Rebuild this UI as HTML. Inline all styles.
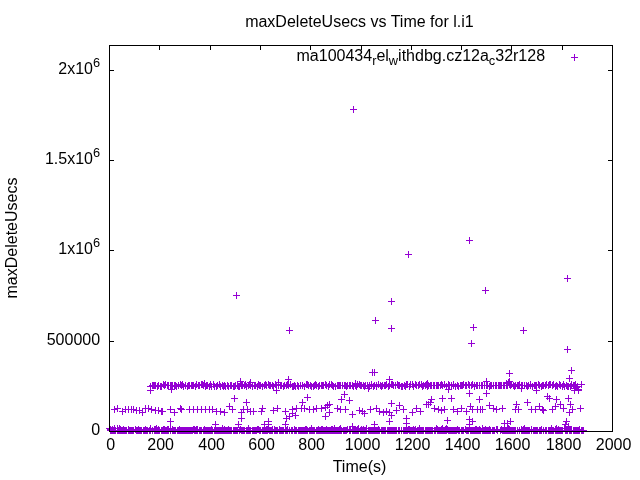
<!DOCTYPE html><html><head><meta charset="utf-8"><style>html,body{margin:0;padding:0;background:#fff}svg{display:block;will-change:transform}text{font-family:"Liberation Sans",sans-serif;font-size:16px;fill:#000}</style></head><body>
<svg width="640" height="480" viewBox="0 0 640 480">
<rect width="640" height="480" fill="#fff"/>
<path d="M109.5 431v-4M109.5 46v4M159.5 431v-4M159.5 46v4M210.5 431v-4M210.5 46v4M260.5 431v-4M260.5 46v4M310.5 431v-4M310.5 46v4M361.5 431v-4M361.5 46v4M411.5 431v-4M411.5 46v4M461.5 431v-4M461.5 46v4M511.5 431v-4M511.5 46v4M562.5 431v-4M562.5 46v4M612.5 431v-4M612.5 46v4M110 431.5h4M612 431.5h-4M110 341.5h4M612 341.5h-4M110 250.5h4M612 250.5h-4M110 160.5h4M612 160.5h-4M110 70.5h4M612 70.5h-4" stroke="#000" stroke-width="1" fill="none"/>
<path d="M571 57.5h7M574.5 54v7M350 109.5h7M353.5 106v7M405 254.5h7M408.5 251v7M466 240.5h7M469.5 237v7M564 278.5h7M567.5 275v7M233 295.5h7M236.5 292v7M286 330.5h7M289.5 327v7M388 301.5h7M391.5 298v7M372 320.5h7M375.5 317v7M388 328.5h7M391.5 325v7M369 372.5h7M372.5 369v7M371 372.5h7M374.5 369v7M482 290.5h7M485.5 287v7M470 327.5h7M473.5 324v7M520 330.5h7M523.5 327v7M468 343.5h7M471.5 340v7M564 349.5h7M567.5 346v7M506 373.5h7M509.5 370v7M568 370.5h7M571.5 367v7M107 430.5h7M110.5 427v7M107 429.5h7M110.5 426v7M108 430.5h7M111.5 427v7M109 430.5h7M112.5 427v7M109 429.5h7M112.5 426v7M110 430.5h7M113.5 427v7M111 430.5h7M114.5 427v7M111 428.5h7M114.5 425v7M112 430.5h7M115.5 427v7M114 430.5h7M117.5 427v7M114 428.5h7M117.5 425v7M115 430.5h7M118.5 427v7M116 430.5h7M119.5 427v7M116 428.5h7M119.5 425v7M117 430.5h7M120.5 427v7M117 429.5h7M120.5 426v7M118 430.5h7M121.5 427v7M119 430.5h7M122.5 427v7M120 430.5h7M123.5 427v7M120 429.5h7M123.5 426v7M121 430.5h7M124.5 427v7M122 430.5h7M125.5 427v7M123 430.5h7M126.5 427v7M125 430.5h7M128.5 427v7M125 429.5h7M128.5 426v7M126 430.5h7M129.5 427v7M127 430.5h7M130.5 427v7M128 430.5h7M131.5 427v7M129 430.5h7M132.5 427v7M130 430.5h7M133.5 427v7M132 429.5h7M135.5 426v7M133 430.5h7M136.5 427v7M134 430.5h7M137.5 427v7M135 430.5h7M138.5 427v7M135 429.5h7M138.5 426v7M136 430.5h7M139.5 427v7M137 430.5h7M140.5 427v7M138 430.5h7M141.5 427v7M140 430.5h7M143.5 427v7M141 430.5h7M144.5 427v7M142 430.5h7M145.5 427v7M142 429.5h7M145.5 426v7M143 430.5h7M146.5 427v7M144 430.5h7M147.5 427v7M146 430.5h7M149.5 427v7M147 430.5h7M150.5 427v7M147 428.5h7M150.5 425v7M149 430.5h7M152.5 427v7M151 430.5h7M154.5 427v7M151 429.5h7M154.5 426v7M152 430.5h7M155.5 427v7M152 429.5h7M155.5 426v7M153 430.5h7M156.5 427v7M153 428.5h7M156.5 425v7M154 430.5h7M157.5 427v7M155 430.5h7M158.5 427v7M155 429.5h7M158.5 426v7M156 430.5h7M159.5 427v7M158 430.5h7M161.5 427v7M159 430.5h7M162.5 427v7M160 430.5h7M163.5 427v7M160 429.5h7M163.5 426v7M161 430.5h7M164.5 427v7M161 429.5h7M164.5 426v7M162 430.5h7M165.5 427v7M163 430.5h7M166.5 427v7M164 430.5h7M167.5 427v7M164 429.5h7M167.5 426v7M165 430.5h7M168.5 427v7M165 429.5h7M168.5 426v7M167 430.5h7M170.5 427v7M167 428.5h7M170.5 425v7M169 430.5h7M172.5 427v7M169 429.5h7M172.5 426v7M170 430.5h7M173.5 427v7M171 430.5h7M174.5 427v7M172 430.5h7M175.5 427v7M174 430.5h7M177.5 427v7M175 430.5h7M178.5 427v7M176 430.5h7M179.5 427v7M176 429.5h7M179.5 426v7M177 430.5h7M180.5 427v7M178 430.5h7M181.5 427v7M179 430.5h7M182.5 427v7M180 430.5h7M183.5 427v7M181 430.5h7M184.5 427v7M182 430.5h7M185.5 427v7M183 430.5h7M186.5 427v7M184 430.5h7M187.5 427v7M185 430.5h7M188.5 427v7M186 430.5h7M189.5 427v7M187 430.5h7M190.5 427v7M188 430.5h7M191.5 427v7M189 430.5h7M192.5 427v7M190 429.5h7M193.5 426v7M191 430.5h7M194.5 427v7M191 429.5h7M194.5 426v7M192 430.5h7M195.5 427v7M193 430.5h7M196.5 427v7M193 429.5h7M196.5 426v7M194 430.5h7M197.5 427v7M194 429.5h7M197.5 426v7M196 430.5h7M199.5 427v7M197 430.5h7M200.5 427v7M198 430.5h7M201.5 427v7M200 430.5h7M203.5 427v7M201 430.5h7M204.5 427v7M201 429.5h7M204.5 426v7M202 430.5h7M205.5 427v7M203 430.5h7M206.5 427v7M204 430.5h7M207.5 427v7M205 430.5h7M208.5 427v7M206 430.5h7M209.5 427v7M207 430.5h7M210.5 427v7M208 430.5h7M211.5 427v7M208 429.5h7M211.5 426v7M209 430.5h7M212.5 427v7M211 430.5h7M214.5 427v7M212 430.5h7M215.5 427v7M213 430.5h7M216.5 427v7M214 430.5h7M217.5 427v7M215 430.5h7M218.5 427v7M216 430.5h7M219.5 427v7M217 430.5h7M220.5 427v7M218 430.5h7M221.5 427v7M219 430.5h7M222.5 427v7M219 428.5h7M222.5 425v7M220 430.5h7M223.5 427v7M221 430.5h7M224.5 427v7M221 429.5h7M224.5 426v7M222 430.5h7M225.5 427v7M223 430.5h7M226.5 427v7M224 430.5h7M227.5 427v7M225 430.5h7M228.5 427v7M225 429.5h7M228.5 426v7M226 430.5h7M229.5 427v7M227 430.5h7M230.5 427v7M228 430.5h7M231.5 427v7M230 430.5h7M233.5 427v7M231 430.5h7M234.5 427v7M232 430.5h7M235.5 427v7M233 430.5h7M236.5 427v7M234 430.5h7M237.5 427v7M236 430.5h7M239.5 427v7M237 429.5h7M240.5 426v7M238 430.5h7M241.5 427v7M239 430.5h7M242.5 427v7M240 430.5h7M243.5 427v7M241 430.5h7M244.5 427v7M243 430.5h7M246.5 427v7M244 430.5h7M247.5 427v7M245 430.5h7M248.5 427v7M245 428.5h7M248.5 425v7M246 430.5h7M249.5 427v7M247 430.5h7M250.5 427v7M249 430.5h7M252.5 427v7M250 430.5h7M253.5 427v7M251 430.5h7M254.5 427v7M252 430.5h7M255.5 427v7M253 430.5h7M256.5 427v7M254 429.5h7M257.5 426v7M255 429.5h7M258.5 426v7M256 430.5h7M259.5 427v7M257 430.5h7M260.5 427v7M259 430.5h7M262.5 427v7M260 430.5h7M263.5 427v7M261 430.5h7M264.5 427v7M262 430.5h7M265.5 427v7M263 430.5h7M266.5 427v7M263 429.5h7M266.5 426v7M264 430.5h7M267.5 427v7M264 429.5h7M267.5 426v7M265 429.5h7M268.5 426v7M266 430.5h7M269.5 427v7M267 430.5h7M270.5 427v7M268 430.5h7M271.5 427v7M269 430.5h7M272.5 427v7M269 429.5h7M272.5 426v7M271 430.5h7M274.5 427v7M271 429.5h7M274.5 426v7M272 430.5h7M275.5 427v7M273 430.5h7M276.5 427v7M274 430.5h7M277.5 427v7M276 430.5h7M279.5 427v7M276 429.5h7M279.5 426v7M277 430.5h7M280.5 427v7M278 430.5h7M281.5 427v7M279 430.5h7M282.5 427v7M280 430.5h7M283.5 427v7M282 430.5h7M285.5 427v7M283 430.5h7M286.5 427v7M284 430.5h7M287.5 427v7M284 429.5h7M287.5 426v7M286 430.5h7M289.5 427v7M288 430.5h7M291.5 427v7M289 430.5h7M292.5 427v7M291 430.5h7M294.5 427v7M291 429.5h7M294.5 426v7M292 430.5h7M295.5 427v7M293 430.5h7M296.5 427v7M295 430.5h7M298.5 427v7M296 430.5h7M299.5 427v7M297 430.5h7M300.5 427v7M298 430.5h7M301.5 427v7M299 430.5h7M302.5 427v7M300 430.5h7M303.5 427v7M301 430.5h7M304.5 427v7M302 430.5h7M305.5 427v7M302 429.5h7M305.5 426v7M303 430.5h7M306.5 427v7M303 429.5h7M306.5 426v7M304 430.5h7M307.5 427v7M306 430.5h7M309.5 427v7M307 430.5h7M310.5 427v7M308 430.5h7M311.5 427v7M308 428.5h7M311.5 425v7M309 430.5h7M312.5 427v7M310 430.5h7M313.5 427v7M311 430.5h7M314.5 427v7M313 430.5h7M316.5 427v7M314 430.5h7M317.5 427v7M315 430.5h7M318.5 427v7M315 429.5h7M318.5 426v7M316 430.5h7M319.5 427v7M317 430.5h7M320.5 427v7M318 430.5h7M321.5 427v7M318 429.5h7M321.5 426v7M319 430.5h7M322.5 427v7M319 429.5h7M322.5 426v7M320 430.5h7M323.5 427v7M321 430.5h7M324.5 427v7M322 430.5h7M325.5 427v7M323 430.5h7M326.5 427v7M323 429.5h7M326.5 426v7M324 430.5h7M327.5 427v7M325 430.5h7M328.5 427v7M326 430.5h7M329.5 427v7M327 430.5h7M330.5 427v7M328 430.5h7M331.5 427v7M328 429.5h7M331.5 426v7M329 430.5h7M332.5 427v7M329 429.5h7M332.5 426v7M330 430.5h7M333.5 427v7M331 430.5h7M334.5 427v7M331 428.5h7M334.5 425v7M332 430.5h7M335.5 427v7M333 430.5h7M336.5 427v7M334 430.5h7M337.5 427v7M335 430.5h7M338.5 427v7M336 430.5h7M339.5 427v7M336 429.5h7M339.5 426v7M337 430.5h7M340.5 427v7M337 428.5h7M340.5 425v7M338 430.5h7M341.5 427v7M340 430.5h7M343.5 427v7M341 430.5h7M344.5 427v7M342 430.5h7M345.5 427v7M343 430.5h7M346.5 427v7M344 429.5h7M347.5 426v7M346 430.5h7M349.5 427v7M347 430.5h7M350.5 427v7M347 429.5h7M350.5 426v7M349 430.5h7M352.5 427v7M350 430.5h7M353.5 427v7M351 430.5h7M354.5 427v7M352 430.5h7M355.5 427v7M353 430.5h7M356.5 427v7M354 430.5h7M357.5 427v7M354 429.5h7M357.5 426v7M355 430.5h7M358.5 427v7M355 428.5h7M358.5 425v7M357 430.5h7M360.5 427v7M358 430.5h7M361.5 427v7M358 429.5h7M361.5 426v7M359 430.5h7M362.5 427v7M360 430.5h7M363.5 427v7M360 429.5h7M363.5 426v7M361 430.5h7M364.5 427v7M362 430.5h7M365.5 427v7M363 430.5h7M366.5 427v7M363 428.5h7M366.5 425v7M365 430.5h7M368.5 427v7M366 430.5h7M369.5 427v7M367 430.5h7M370.5 427v7M368 430.5h7M371.5 427v7M369 430.5h7M372.5 427v7M370 430.5h7M373.5 427v7M371 430.5h7M374.5 427v7M372 430.5h7M375.5 427v7M373 430.5h7M376.5 427v7M374 430.5h7M377.5 427v7M375 430.5h7M378.5 427v7M375 429.5h7M378.5 426v7M376 430.5h7M379.5 427v7M378 430.5h7M381.5 427v7M379 430.5h7M382.5 427v7M380 430.5h7M383.5 427v7M381 430.5h7M384.5 427v7M382 430.5h7M385.5 427v7M384 430.5h7M387.5 427v7M385 430.5h7M388.5 427v7M386 430.5h7M389.5 427v7M387 430.5h7M390.5 427v7M388 430.5h7M391.5 427v7M389 430.5h7M392.5 427v7M390 430.5h7M393.5 427v7M391 430.5h7M394.5 427v7M392 430.5h7M395.5 427v7M393 430.5h7M396.5 427v7M395 430.5h7M398.5 427v7M396 430.5h7M399.5 427v7M398 430.5h7M401.5 427v7M400 430.5h7M403.5 427v7M401 430.5h7M404.5 427v7M402 430.5h7M405.5 427v7M403 430.5h7M406.5 427v7M404 430.5h7M407.5 427v7M405 429.5h7M408.5 426v7M406 430.5h7M409.5 427v7M406 429.5h7M409.5 426v7M407 430.5h7M410.5 427v7M408 430.5h7M411.5 427v7M409 430.5h7M412.5 427v7M410 430.5h7M413.5 427v7M410 429.5h7M413.5 426v7M411 430.5h7M414.5 427v7M412 430.5h7M415.5 427v7M412 429.5h7M415.5 426v7M414 430.5h7M417.5 427v7M415 430.5h7M418.5 427v7M416 430.5h7M419.5 427v7M416 428.5h7M419.5 425v7M417 430.5h7M420.5 427v7M418 430.5h7M421.5 427v7M419 430.5h7M422.5 427v7M420 430.5h7M423.5 427v7M422 430.5h7M425.5 427v7M423 430.5h7M426.5 427v7M424 430.5h7M427.5 427v7M425 430.5h7M428.5 427v7M426 430.5h7M429.5 427v7M427 430.5h7M430.5 427v7M428 430.5h7M431.5 427v7M429 430.5h7M432.5 427v7M431 430.5h7M434.5 427v7M432 430.5h7M435.5 427v7M433 428.5h7M436.5 425v7M434 430.5h7M437.5 427v7M434 429.5h7M437.5 426v7M435 430.5h7M438.5 427v7M436 430.5h7M439.5 427v7M437 430.5h7M440.5 427v7M438 430.5h7M441.5 427v7M438 429.5h7M441.5 426v7M439 430.5h7M442.5 427v7M439 428.5h7M442.5 425v7M440 430.5h7M443.5 427v7M441 430.5h7M444.5 427v7M442 430.5h7M445.5 427v7M442 429.5h7M445.5 426v7M443 430.5h7M446.5 427v7M443 428.5h7M446.5 425v7M444 429.5h7M447.5 426v7M445 430.5h7M448.5 427v7M446 430.5h7M449.5 427v7M447 430.5h7M450.5 427v7M448 430.5h7M451.5 427v7M449 430.5h7M452.5 427v7M450 430.5h7M453.5 427v7M451 430.5h7M454.5 427v7M452 430.5h7M455.5 427v7M453 430.5h7M456.5 427v7M454 429.5h7M457.5 426v7M455 430.5h7M458.5 427v7M456 430.5h7M459.5 427v7M458 430.5h7M461.5 427v7M459 430.5h7M462.5 427v7M460 430.5h7M463.5 427v7M462 429.5h7M465.5 426v7M463 430.5h7M466.5 427v7M464 430.5h7M467.5 427v7M465 430.5h7M468.5 427v7M466 428.5h7M469.5 425v7M467 430.5h7M470.5 427v7M468 430.5h7M471.5 427v7M469 430.5h7M472.5 427v7M470 430.5h7M473.5 427v7M471 430.5h7M474.5 427v7M472 430.5h7M475.5 427v7M472 429.5h7M475.5 426v7M473 430.5h7M476.5 427v7M473 429.5h7M476.5 426v7M474 430.5h7M477.5 427v7M475 430.5h7M478.5 427v7M476 430.5h7M479.5 427v7M476 429.5h7M479.5 426v7M477 430.5h7M480.5 427v7M479 430.5h7M482.5 427v7M479 428.5h7M482.5 425v7M480 430.5h7M483.5 427v7M481 430.5h7M484.5 427v7M482 430.5h7M485.5 427v7M482 429.5h7M485.5 426v7M483 430.5h7M486.5 427v7M484 430.5h7M487.5 427v7M485 430.5h7M488.5 427v7M486 430.5h7M489.5 427v7M486 429.5h7M489.5 426v7M487 430.5h7M490.5 427v7M489 430.5h7M492.5 427v7M490 430.5h7M493.5 427v7M491 430.5h7M494.5 427v7M493 429.5h7M496.5 426v7M494 430.5h7M497.5 427v7M494 429.5h7M497.5 426v7M497 430.5h7M500.5 427v7M498 429.5h7M501.5 426v7M499 430.5h7M502.5 427v7M500 430.5h7M503.5 427v7M501 430.5h7M504.5 427v7M502 430.5h7M505.5 427v7M503 430.5h7M506.5 427v7M504 430.5h7M507.5 427v7M504 429.5h7M507.5 426v7M505 430.5h7M508.5 427v7M505 428.5h7M508.5 425v7M506 430.5h7M509.5 427v7M506 429.5h7M509.5 426v7M507 430.5h7M510.5 427v7M508 430.5h7M511.5 427v7M509 430.5h7M512.5 427v7M510 430.5h7M513.5 427v7M511 430.5h7M514.5 427v7M512 430.5h7M515.5 427v7M514 430.5h7M517.5 427v7M516 430.5h7M519.5 427v7M518 430.5h7M521.5 427v7M518 429.5h7M521.5 426v7M519 430.5h7M522.5 427v7M520 430.5h7M523.5 427v7M520 429.5h7M523.5 426v7M521 430.5h7M524.5 427v7M521 428.5h7M524.5 425v7M522 430.5h7M525.5 427v7M523 430.5h7M526.5 427v7M524 430.5h7M527.5 427v7M525 430.5h7M528.5 427v7M526 430.5h7M529.5 427v7M528 430.5h7M531.5 427v7M528 429.5h7M531.5 426v7M530 430.5h7M533.5 427v7M531 430.5h7M534.5 427v7M532 430.5h7M535.5 427v7M533 430.5h7M536.5 427v7M534 430.5h7M537.5 427v7M536 430.5h7M539.5 427v7M537 430.5h7M540.5 427v7M538 430.5h7M541.5 427v7M538 429.5h7M541.5 426v7M540 430.5h7M543.5 427v7M542 430.5h7M545.5 427v7M543 430.5h7M546.5 427v7M545 430.5h7M548.5 427v7M546 430.5h7M549.5 427v7M547 430.5h7M550.5 427v7M548 430.5h7M551.5 427v7M548 428.5h7M551.5 425v7M549 430.5h7M552.5 427v7M550 430.5h7M553.5 427v7M552 430.5h7M555.5 427v7M552 429.5h7M555.5 426v7M553 430.5h7M556.5 427v7M553 428.5h7M556.5 425v7M554 430.5h7M557.5 427v7M555 430.5h7M558.5 427v7M555 429.5h7M558.5 426v7M556 430.5h7M559.5 427v7M557 430.5h7M560.5 427v7M558 430.5h7M561.5 427v7M559 430.5h7M562.5 427v7M561 428.5h7M564.5 425v7M562 430.5h7M565.5 427v7M563 430.5h7M566.5 427v7M564 430.5h7M567.5 427v7M566 430.5h7M569.5 427v7M567 430.5h7M570.5 427v7M568 430.5h7M571.5 427v7M570 430.5h7M573.5 427v7M571 430.5h7M574.5 427v7M572 430.5h7M575.5 427v7M573 430.5h7M576.5 427v7M574 430.5h7M577.5 427v7M575 430.5h7M578.5 427v7M576 430.5h7M579.5 427v7M576 429.5h7M579.5 426v7M578 430.5h7M581.5 427v7M579 430.5h7M582.5 427v7M106 428.5h7M109.5 425v7M580 430.5h7M583.5 427v7M147 386.5h7M150.5 383v7M149 385.5h7M152.5 382v7M150 385.5h7M153.5 382v7M151 385.5h7M154.5 382v7M152 385.5h7M155.5 382v7M154 386.5h7M157.5 383v7M155 385.5h7M158.5 382v7M157 386.5h7M160.5 383v7M158 386.5h7M161.5 383v7M160 384.5h7M163.5 381v7M161 385.5h7M164.5 382v7M162 384.5h7M165.5 381v7M164 385.5h7M167.5 382v7M165 385.5h7M168.5 382v7M167 385.5h7M170.5 382v7M168 385.5h7M171.5 382v7M169 385.5h7M172.5 382v7M171 385.5h7M174.5 382v7M172 385.5h7M175.5 382v7M173 386.5h7M176.5 383v7M175 385.5h7M178.5 382v7M177 384.5h7M180.5 381v7M178 385.5h7M181.5 382v7M179 384.5h7M182.5 381v7M180 386.5h7M183.5 383v7M182 385.5h7M185.5 382v7M184 386.5h7M187.5 383v7M185 385.5h7M188.5 382v7M186 385.5h7M189.5 382v7M188 385.5h7M191.5 382v7M189 385.5h7M192.5 382v7M190 385.5h7M193.5 382v7M192 386.5h7M195.5 383v7M193 384.5h7M196.5 381v7M195 385.5h7M198.5 382v7M196 385.5h7M199.5 382v7M198 384.5h7M201.5 381v7M199 384.5h7M202.5 381v7M200 385.5h7M203.5 382v7M202 386.5h7M205.5 383v7M203 385.5h7M206.5 382v7M204 385.5h7M207.5 382v7M206 386.5h7M209.5 383v7M207 384.5h7M210.5 381v7M208 386.5h7M211.5 383v7M210 384.5h7M213.5 381v7M211 386.5h7M214.5 383v7M213 386.5h7M216.5 383v7M214 385.5h7M217.5 382v7M216 384.5h7M219.5 381v7M217 386.5h7M220.5 383v7M219 385.5h7M222.5 382v7M220 386.5h7M223.5 383v7M221 385.5h7M224.5 382v7M222 386.5h7M225.5 383v7M224 385.5h7M227.5 382v7M225 386.5h7M228.5 383v7M227 385.5h7M230.5 382v7M228 385.5h7M231.5 382v7M230 386.5h7M233.5 383v7M231 386.5h7M234.5 383v7M232 385.5h7M235.5 382v7M234 385.5h7M237.5 382v7M235 386.5h7M238.5 383v7M236 386.5h7M239.5 383v7M238 385.5h7M241.5 382v7M239 385.5h7M242.5 382v7M241 385.5h7M244.5 382v7M242 384.5h7M245.5 381v7M243 386.5h7M246.5 383v7M245 385.5h7M248.5 382v7M246 384.5h7M249.5 381v7M247 385.5h7M250.5 382v7M249 386.5h7M252.5 383v7M251 385.5h7M254.5 382v7M252 385.5h7M255.5 382v7M254 386.5h7M257.5 383v7M255 384.5h7M258.5 381v7M256 385.5h7M259.5 382v7M257 385.5h7M260.5 382v7M259 386.5h7M262.5 383v7M261 385.5h7M264.5 382v7M262 384.5h7M265.5 381v7M263 385.5h7M266.5 382v7M265 384.5h7M268.5 381v7M266 385.5h7M269.5 382v7M267 385.5h7M270.5 382v7M269 385.5h7M272.5 382v7M270 386.5h7M273.5 383v7M272 384.5h7M275.5 381v7M273 385.5h7M276.5 382v7M275 384.5h7M278.5 381v7M275 385.5h7M278.5 382v7M277 385.5h7M280.5 382v7M278 385.5h7M281.5 382v7M280 386.5h7M283.5 383v7M281 385.5h7M284.5 382v7M283 385.5h7M286.5 382v7M284 384.5h7M287.5 381v7M285 385.5h7M288.5 382v7M287 384.5h7M290.5 381v7M289 386.5h7M292.5 383v7M290 386.5h7M293.5 383v7M291 385.5h7M294.5 382v7M292 386.5h7M295.5 383v7M294 385.5h7M297.5 382v7M295 386.5h7M298.5 383v7M297 385.5h7M300.5 382v7M299 385.5h7M302.5 382v7M299 385.5h7M302.5 382v7M301 386.5h7M304.5 383v7M303 384.5h7M306.5 381v7M304 384.5h7M307.5 381v7M305 385.5h7M308.5 382v7M307 385.5h7M310.5 382v7M308 386.5h7M311.5 383v7M310 386.5h7M313.5 383v7M311 385.5h7M314.5 382v7M312 384.5h7M315.5 381v7M313 385.5h7M316.5 382v7M315 386.5h7M318.5 383v7M316 385.5h7M319.5 382v7M318 385.5h7M321.5 382v7M319 385.5h7M322.5 382v7M320 385.5h7M323.5 382v7M322 384.5h7M325.5 381v7M323 385.5h7M326.5 382v7M325 386.5h7M328.5 383v7M326 384.5h7M329.5 381v7M328 384.5h7M331.5 381v7M329 385.5h7M332.5 382v7M330 386.5h7M333.5 383v7M332 386.5h7M335.5 383v7M334 385.5h7M337.5 382v7M335 385.5h7M338.5 382v7M336 385.5h7M339.5 382v7M337 385.5h7M340.5 382v7M339 385.5h7M342.5 382v7M341 385.5h7M344.5 382v7M342 385.5h7M345.5 382v7M343 386.5h7M346.5 383v7M344 385.5h7M347.5 382v7M346 385.5h7M349.5 382v7M347 385.5h7M350.5 382v7M349 385.5h7M352.5 382v7M350 386.5h7M353.5 383v7M352 385.5h7M355.5 382v7M353 386.5h7M356.5 383v7M354 384.5h7M357.5 381v7M356 384.5h7M359.5 381v7M357 385.5h7M360.5 382v7M358 385.5h7M361.5 382v7M360 385.5h7M363.5 382v7M361 386.5h7M364.5 383v7M362 385.5h7M365.5 382v7M364 385.5h7M367.5 382v7M366 385.5h7M369.5 382v7M366 386.5h7M369.5 383v7M368 384.5h7M371.5 381v7M370 386.5h7M373.5 383v7M371 385.5h7M374.5 382v7M373 386.5h7M376.5 383v7M373 385.5h7M376.5 382v7M375 384.5h7M378.5 381v7M377 385.5h7M380.5 382v7M378 386.5h7M381.5 383v7M379 385.5h7M382.5 382v7M381 385.5h7M384.5 382v7M382 385.5h7M385.5 382v7M383 384.5h7M386.5 381v7M385 386.5h7M388.5 383v7M386 385.5h7M389.5 382v7M388 384.5h7M391.5 381v7M389 384.5h7M392.5 381v7M390 385.5h7M393.5 382v7M392 385.5h7M395.5 382v7M394 384.5h7M397.5 381v7M395 385.5h7M398.5 382v7M396 385.5h7M399.5 382v7M398 386.5h7M401.5 383v7M399 386.5h7M402.5 383v7M401 385.5h7M404.5 382v7M402 386.5h7M405.5 383v7M403 384.5h7M406.5 381v7M404 384.5h7M407.5 381v7M406 386.5h7M409.5 383v7M407 384.5h7M410.5 381v7M409 384.5h7M412.5 381v7M410 386.5h7M413.5 383v7M412 384.5h7M415.5 381v7M413 385.5h7M416.5 382v7M415 385.5h7M418.5 382v7M416 384.5h7M419.5 381v7M418 384.5h7M421.5 381v7M419 386.5h7M422.5 383v7M420 385.5h7M423.5 382v7M422 385.5h7M425.5 382v7M423 384.5h7M426.5 381v7M424 386.5h7M427.5 383v7M425 385.5h7M428.5 382v7M427 385.5h7M430.5 382v7M428 385.5h7M431.5 382v7M430 385.5h7M433.5 382v7M431 385.5h7M434.5 382v7M433 385.5h7M436.5 382v7M434 385.5h7M437.5 382v7M435 385.5h7M438.5 382v7M437 385.5h7M440.5 382v7M438 384.5h7M441.5 381v7M439 385.5h7M442.5 382v7M441 384.5h7M444.5 381v7M443 386.5h7M446.5 383v7M443 386.5h7M446.5 383v7M445 384.5h7M448.5 381v7M446 385.5h7M449.5 382v7M448 385.5h7M451.5 382v7M450 384.5h7M453.5 381v7M450 385.5h7M453.5 382v7M452 386.5h7M455.5 383v7M454 385.5h7M457.5 382v7M455 386.5h7M458.5 383v7M457 385.5h7M460.5 382v7M458 385.5h7M461.5 382v7M459 385.5h7M462.5 382v7M460 384.5h7M463.5 381v7M462 385.5h7M465.5 382v7M463 385.5h7M466.5 382v7M465 384.5h7M468.5 381v7M466 385.5h7M469.5 382v7M468 385.5h7M471.5 382v7M469 384.5h7M472.5 381v7M471 386.5h7M474.5 383v7M471 385.5h7M474.5 382v7M473 385.5h7M476.5 382v7M474 385.5h7M477.5 382v7M476 385.5h7M479.5 382v7M478 385.5h7M481.5 382v7M479 385.5h7M482.5 382v7M481 385.5h7M484.5 382v7M481 385.5h7M484.5 382v7M483 385.5h7M486.5 382v7M484 385.5h7M487.5 382v7M486 386.5h7M489.5 383v7M487 385.5h7M490.5 382v7M488 385.5h7M491.5 382v7M490 385.5h7M493.5 382v7M492 385.5h7M495.5 382v7M493 385.5h7M496.5 382v7M495 385.5h7M498.5 382v7M496 385.5h7M499.5 382v7M497 385.5h7M500.5 382v7M498 385.5h7M501.5 382v7M500 385.5h7M503.5 382v7M501 385.5h7M504.5 382v7M503 385.5h7M506.5 382v7M504 385.5h7M507.5 382v7M506 384.5h7M509.5 381v7M507 385.5h7M510.5 382v7M508 384.5h7M511.5 381v7M510 385.5h7M513.5 382v7M511 386.5h7M514.5 383v7M512 385.5h7M515.5 382v7M514 385.5h7M517.5 382v7M515 385.5h7M518.5 382v7M516 384.5h7M519.5 381v7M518 385.5h7M521.5 382v7M519 385.5h7M522.5 382v7M521 385.5h7M524.5 382v7M523 385.5h7M526.5 382v7M524 386.5h7M527.5 383v7M525 385.5h7M528.5 382v7M527 385.5h7M530.5 382v7M527 384.5h7M530.5 381v7M529 386.5h7M532.5 383v7M531 385.5h7M534.5 382v7M532 385.5h7M535.5 382v7M533 385.5h7M536.5 382v7M535 384.5h7M538.5 381v7M536 385.5h7M539.5 382v7M538 386.5h7M541.5 383v7M539 385.5h7M542.5 382v7M540 385.5h7M543.5 382v7M542 385.5h7M545.5 382v7M543 384.5h7M546.5 381v7M545 385.5h7M548.5 382v7M546 384.5h7M549.5 381v7M547 384.5h7M550.5 381v7M549 385.5h7M552.5 382v7M550 384.5h7M553.5 381v7M552 386.5h7M555.5 383v7M553 385.5h7M556.5 382v7M554 386.5h7M557.5 383v7M556 384.5h7M559.5 381v7M557 385.5h7M560.5 382v7M559 386.5h7M562.5 383v7M560 384.5h7M563.5 381v7M561 386.5h7M564.5 383v7M563 385.5h7M566.5 382v7M564 386.5h7M567.5 383v7M565 386.5h7M568.5 383v7M567 386.5h7M570.5 383v7M568 384.5h7M571.5 381v7M570 385.5h7M573.5 382v7M571 385.5h7M574.5 382v7M572 384.5h7M575.5 381v7M574 386.5h7M577.5 383v7M578 384.5h7M581.5 381v7M237 381.5h7M240.5 378v7M201 383.5h7M204.5 380v7M247 382.5h7M250.5 379v7M506 381.5h7M509.5 378v7M505 382.5h7M508.5 379v7M503 383.5h7M506.5 380v7M352 383.5h7M355.5 380v7M424 383.5h7M427.5 380v7M147 390.5h7M150.5 387v7M168 389.5h7M171.5 386v7M273 390.5h7M276.5 387v7M285 379.5h7M288.5 376v7M275 382.5h7M278.5 379v7M386 379.5h7M389.5 376v7M365 388.5h7M368.5 385v7M445 389.5h7M448.5 386v7M483 381.5h7M486.5 378v7M566 378.5h7M569.5 375v7M575 389.5h7M578.5 386v7M571 388.5h7M574.5 385v7M533 390.5h7M536.5 387v7M518 388.5h7M521.5 385v7M571 390.5h7M574.5 387v7M575 390.5h7M578.5 387v7M573 387.5h7M576.5 384v7M111 409.5h7M114.5 406v7M114 408.5h7M117.5 405v7M119 411.5h7M122.5 408v7M122 409.5h7M125.5 406v7M125 409.5h7M128.5 406v7M128 409.5h7M131.5 406v7M130 409.5h7M133.5 406v7M133 410.5h7M136.5 407v7M136 410.5h7M139.5 407v7M139 412.5h7M142.5 409v7M142 408.5h7M145.5 405v7M145 408.5h7M148.5 405v7M148 409.5h7M151.5 406v7M152 410.5h7M155.5 407v7M155 410.5h7M158.5 407v7M158 411.5h7M161.5 408v7M159 411.5h7M162.5 408v7M167 409.5h7M170.5 406v7M171 412.5h7M174.5 409v7M177 408.5h7M180.5 405v7M178 409.5h7M181.5 406v7M186 409.5h7M189.5 406v7M190 409.5h7M193.5 406v7M194 409.5h7M197.5 406v7M198 409.5h7M201.5 406v7M202 409.5h7M205.5 406v7M206 409.5h7M209.5 406v7M209 409.5h7M212.5 406v7M213 411.5h7M216.5 408v7M217 411.5h7M220.5 408v7M221 412.5h7M224.5 409v7M226 406.5h7M229.5 403v7M229 409.5h7M232.5 406v7M247 411.5h7M250.5 408v7M250 411.5h7M253.5 408v7M258 411.5h7M261.5 408v7M298 408.5h7M301.5 405v7M301 408.5h7M304.5 405v7M306 409.5h7M309.5 406v7M310 409.5h7M313.5 406v7M313 408.5h7M316.5 405v7M318 408.5h7M321.5 405v7M322 407.5h7M325.5 404v7M334 408.5h7M337.5 405v7M337 409.5h7M340.5 406v7M356 410.5h7M359.5 407v7M359 411.5h7M362.5 408v7M361 413.5h7M364.5 410v7M367 409.5h7M370.5 406v7M373 408.5h7M376.5 405v7M376 411.5h7M379.5 408v7M380 412.5h7M383.5 409v7M383 411.5h7M386.5 408v7M386 412.5h7M389.5 409v7M393 410.5h7M396.5 407v7M409 412.5h7M412.5 409v7M413 408.5h7M416.5 405v7M417 411.5h7M420.5 408v7M342 409.5h7M345.5 406v7M431 408.5h7M434.5 405v7M435 409.5h7M438.5 406v7M438 410.5h7M441.5 407v7M441 409.5h7M444.5 406v7M450 409.5h7M453.5 406v7M454 411.5h7M457.5 408v7M458 408.5h7M461.5 405v7M463 411.5h7M466.5 408v7M467 406.5h7M470.5 403v7M469 409.5h7M472.5 406v7M474 409.5h7M477.5 406v7M477 409.5h7M480.5 406v7M479 409.5h7M482.5 406v7M486 405.5h7M489.5 402v7M490 408.5h7M493.5 405v7M493 409.5h7M496.5 406v7M499 408.5h7M502.5 405v7M512 409.5h7M515.5 406v7M515 409.5h7M518.5 406v7M528 409.5h7M531.5 406v7M532 409.5h7M535.5 406v7M536 406.5h7M539.5 403v7M539 409.5h7M542.5 406v7M540 410.5h7M543.5 407v7M549 409.5h7M552.5 406v7M552 406.5h7M555.5 403v7M557 404.5h7M560.5 401v7M560 408.5h7M563.5 405v7M567 404.5h7M570.5 401v7M569 409.5h7M572.5 406v7M566 412.5h7M569.5 409v7M577 408.5h7M580.5 405v7M349 426.5h7M352.5 423v7M265 421.5h7M268.5 418v7M167 421.5h7M170.5 418v7M231 398.5h7M234.5 395v7M243 402.5h7M246.5 399v7M238 412.5h7M241.5 409v7M238 418.5h7M241.5 415v7M240 409.5h7M243.5 406v7M244 409.5h7M247.5 406v7M212 424.5h7M215.5 421v7M235 424.5h7M238.5 421v7M259 408.5h7M262.5 405v7M261 424.5h7M264.5 421v7M304 397.5h7M307.5 394v7M299 402.5h7M302.5 399v7M338 399.5h7M341.5 396v7M341 394.5h7M344.5 391v7M289 409.5h7M292.5 406v7M274 408.5h7M277.5 405v7M270 410.5h7M273.5 407v7M282 411.5h7M285.5 408v7M293 408.5h7M296.5 405v7M289 413.5h7M292.5 410v7M292 415.5h7M295.5 412v7M286 416.5h7M289.5 413v7M283 418.5h7M286.5 415v7M326 404.5h7M329.5 401v7M324 405.5h7M327.5 402v7M326 412.5h7M329.5 409v7M322 416.5h7M325.5 413v7M265 424.5h7M268.5 421v7M282 424.5h7M285.5 421v7M346 400.5h7M349.5 397v7M388 403.5h7M391.5 400v7M396 405.5h7M399.5 402v7M400 409.5h7M403.5 406v7M349 414.5h7M352.5 411v7M388 415.5h7M391.5 412v7M386 421.5h7M389.5 418v7M403 418.5h7M406.5 415v7M403 423.5h7M406.5 420v7M423 404.5h7M426.5 401v7M371 424.5h7M374.5 421v7M466 393.5h7M469.5 390v7M483 393.5h7M486.5 390v7M439 398.5h7M442.5 395v7M448 398.5h7M451.5 395v7M476 399.5h7M479.5 396v7M428 399.5h7M431.5 396v7M427 402.5h7M430.5 399v7M425 404.5h7M428.5 401v7M444 420.5h7M447.5 417v7M466 419.5h7M469.5 416v7M469 421.5h7M472.5 418v7M466 424.5h7M469.5 421v7M501 423.5h7M504.5 420v7M544 396.5h7M547.5 393v7M546 398.5h7M549.5 395v7M553 399.5h7M556.5 396v7M565 398.5h7M568.5 395v7M524 402.5h7M527.5 399v7M513 404.5h7M516.5 401v7M507 421.5h7M510.5 418v7M504 423.5h7M507.5 420v7M563 421.5h7M566.5 418v7M562 424.5h7M565.5 421v7M565 426.5h7M568.5 423v7" stroke="#9400d3" stroke-width="1" fill="none"/>
<path d="M109 45.5H613M109 431.5H613M109.5 45V432M612.5 45V432" stroke="#000" stroke-width="1" fill="none"/>
<text x="100.1" y="435.3" text-anchor="end">0</text>
<text x="100.1" y="345.3" text-anchor="end">500000</text>
<text x="100.1" y="254.3" text-anchor="end">1x10<tspan dy="-7" font-size="12.8">6</tspan></text>
<text x="100.1" y="164.3" text-anchor="end">1.5x10<tspan dy="-7" font-size="12.8">6</tspan></text>
<text x="100.1" y="74.3" text-anchor="end">2x10<tspan dy="-7" font-size="12.8">6</tspan></text>
<text x="110.6" y="449.5" text-anchor="middle">0</text>
<text x="160.6" y="449.5" text-anchor="middle">200</text>
<text x="211.6" y="449.5" text-anchor="middle">400</text>
<text x="261.6" y="449.5" text-anchor="middle">600</text>
<text x="311.6" y="449.5" text-anchor="middle">800</text>
<text x="362.6" y="449.5" text-anchor="middle">1000</text>
<text x="412.6" y="449.5" text-anchor="middle">1200</text>
<text x="462.6" y="449.5" text-anchor="middle">1400</text>
<text x="512.6" y="449.5" text-anchor="middle">1600</text>
<text x="563.6" y="449.5" text-anchor="middle">1800</text>
<text x="613.6" y="449.5" text-anchor="middle">2000</text>
<text x="359.5" y="471.6" text-anchor="middle">Time(s)</text>
<text transform="translate(17 238) rotate(-90)" text-anchor="middle">maxDeleteUsecs</text>
<text x="359.4" y="26.8" text-anchor="middle">maxDeleteUsecs vs Time for l.i1</text>
<text x="296.5" y="60.8">ma100434<tspan dy="4" font-size="12.8">r</tspan><tspan dy="-4">el</tspan><tspan dy="4" font-size="12.8">w</tspan><tspan dy="-4">ithdbg.cz12a</tspan><tspan dy="4" font-size="12.8">c</tspan><tspan dy="-4">32r128</tspan></text>
</svg></body></html>
